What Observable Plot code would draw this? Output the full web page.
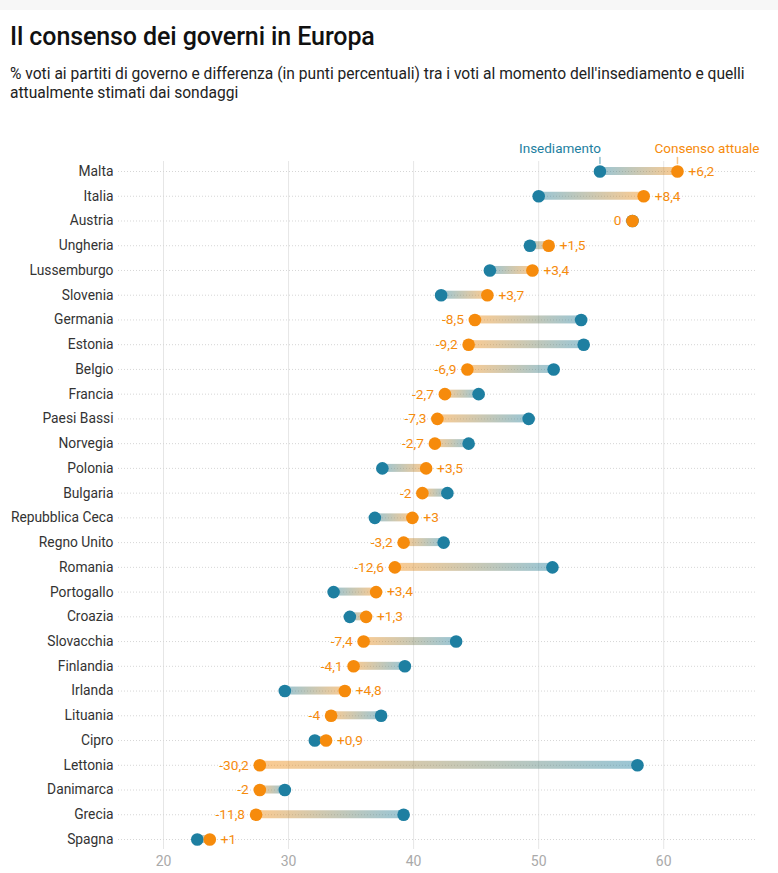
<!DOCTYPE html>
<html><head><meta charset="utf-8">
<script src="https://cdn.jsdelivr.net/npm/d3@7"></script>
<script src="https://cdn.jsdelivr.net/npm/@observablehq/plot@0.6"></script>
<style>
html,body{margin:0;padding:0;background:#fff;font-family:Roboto,sans-serif;}
.band{position:absolute;left:0;top:0;width:778px;height:10px;background:#f7f7f7;}
h1{margin:0;position:absolute;left:10px;top:22px;font-size:25px;font-weight:500;color:#111;letter-spacing:-0.1px;line-height:30px;}
.sub{position:absolute;left:10px;top:65px;font-size:15.6px;line-height:19px;color:#222;width:765px;}
#chart{position:absolute;left:0;top:120px;}
</style></head>
<body>
<div class="band"></div>
<h1>Il consenso dei governi in Europa</h1>
<div class="sub">% voti ai partiti di governo e differenza (in punti percentuali) tra i voti al momento dell'insediamento e quelli attualmente stimati dai sondaggi</div>
<div id="chart"></div>
<script>
const countries = ["Malta","Italia","Austria","Ungheria","Lussemburgo","Slovenia","Germania","Estonia","Belgio","Francia","Paesi Bassi","Norvegia","Polonia","Bulgaria","Repubblica Ceca","Regno Unito","Romania","Portogallo","Croazia","Slovacchia","Finlandia","Irlanda","Lituania","Cipro","Lettonia","Danimarca","Grecia","Spagna"];
const insediamento = [54.9,50.0,57.5,49.3,46.1,42.2,53.4,53.6,51.2,45.2,49.2,44.4,37.5,42.7,36.9,42.4,51.1,33.6,34.9,43.4,39.3,29.7,37.4,32.1,57.9,29.7,39.2,22.7];
const attuale = [61.1,58.4,57.5,50.8,49.5,45.9,44.9,44.4,44.3,42.5,41.9,41.7,41.0,40.7,39.9,39.2,38.5,37.0,36.2,36.0,35.2,34.5,33.4,33.0,27.7,27.7,27.4,23.7];
const xTicks = [20,30,40,50,60];
const legendLabels = ["Insediamento","Consenso attuale"];

const teal = "#1e7fa1", orange = "#f68b0c";
const data = countries.map((c,i)=>({country:c,start:insediamento[i],cur:attuale[i],diff:Math.round((attuale[i]-insediamento[i])*10)/10}));
const fmt = d => (d.diff>0?"+":"") + String(d.diff).replace(".",",");
const tick = {draw(ctx,l){ctx.moveTo(0,0);ctx.lineTo(0,-l);}};

const chart = Plot.plot({
  width: 778, height: 753,
  marginLeft: 118, marginRight: 21, marginTop: 41, marginBottom: 24,
  style: {fontFamily: "Roboto, sans-serif", fontSize: "13px", background: "transparent", overflow: "visible"},
  x: {domain: [16.4, 67.5]},
  y: {type: "band", domain: countries, paddingInner: 0.677, paddingOuter: 0.243, round: false},
  marks: [
    Plot.ruleX(xTicks, {stroke: "#e6e6e6"}),
    Plot.ruleY(data, {y: "country", stroke: "#d6d6d6", strokeDasharray: "1,2"}),
    Plot.barX(data.filter(d=>d.cur>d.start), {x1:"start", x2:"cur", y:"country", fill:"url(#gUp)"}),
    Plot.barX(data.filter(d=>d.cur<d.start), {x1:"start", x2:"cur", y:"country", fill:"url(#gDown)"}),
    Plot.dot(data, {x:"start", y:"country", r:6.3, fill:teal}),
    Plot.dot(data, {x:"cur", y:"country", r:6.3, fill:orange}),
    Plot.text(data.filter(d=>d.diff>0), {x:"cur", y:"country", text:fmt, textAnchor:"start", dx:11, fill:orange, fontSize:13.7}),
    Plot.text(data.filter(d=>d.diff<=0), {x:"cur", y:"country", text:fmt, textAnchor:"end", dx:-11, fill:orange, fontSize:13.7}),
    Plot.vector([data[0]], {x:"start", y:"country", length:6, rotate:0, anchor:"start", dy:-8, shape:tick, stroke:teal, strokeOpacity:0.5}),
    Plot.vector([data[0]], {x:"cur", y:"country", length:6, rotate:0, anchor:"start", dy:-8, shape:tick, stroke:orange, strokeOpacity:0.5}),
    Plot.text([data[0]], {x:"start", y:"country", text:()=>legendLabels[0], textAnchor:"end", dx:1, dy:-23, fill:teal, fontSize:13.5}),
    Plot.text([data[0]], {y:"country", frameAnchor:"right", text:()=>legendLabels[1], textAnchor:"end", dx:2, dy:-23, fill:orange, fontSize:13.5}),
    Plot.axisX({ticks: xTicks, tickSize:0, tickPadding:7, color:"#aaa", fontSize:14, label:null}),
    Plot.axisY({tickSize:0, tickPadding:5, color:"#333", fontSize:13.8, label:null})
  ]
});
const defs = d3.select(chart).insert("defs", ":first-child");
function grad(id, c0, c1){
  const g = defs.append("linearGradient").attr("id", id);
  g.append("stop").attr("offset","0%").attr("stop-color",c0).attr("stop-opacity",0.45);
  g.append("stop").attr("offset","100%").attr("stop-color",c1).attr("stop-opacity",0.45);
}
grad("gUp", teal, orange);
grad("gDown", orange, teal);
document.getElementById("chart").appendChild(chart);
</script>
</body></html>
